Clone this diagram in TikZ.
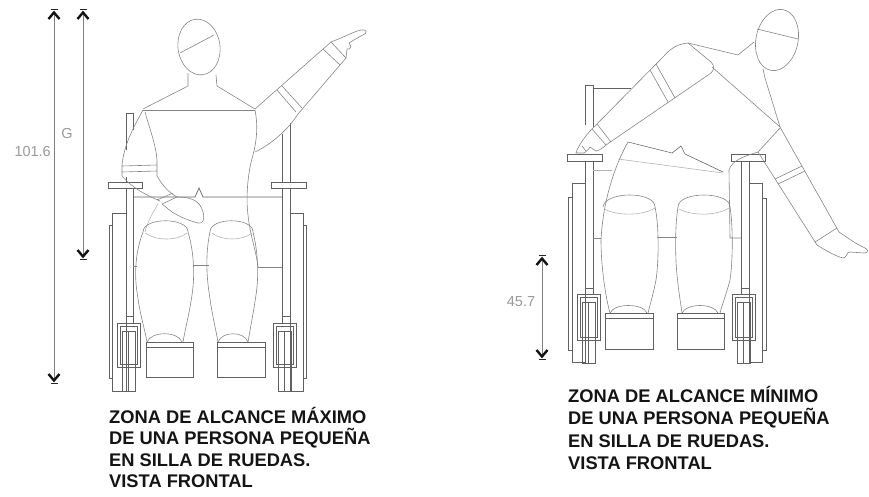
\documentclass[tikz,border=0pt]{standalone}
\usepackage{fontspec}
\setmainfont{Liberation Sans}
\begin{document}
\begin{tikzpicture}[x=1pt,y=-1pt,
  chair/.style={draw=black!62,line width=0.7pt},
  body/.style={draw=black!48,line width=0.6pt},
  faint/.style={draw=black!30,line width=0.6pt},
  dimline/.style={draw=black!50,line width=0.6pt},
  tipline/.style={draw=black!92,line width=2.4pt,line join=miter},
  tipbar/.style={draw=black!85,line width=1.1pt},
  caption/.style={anchor=base west,inner sep=0pt,font=\bfseries\fontsize{18.3}{22}\selectfont,text=black!92},
  dimlabel/.style={inner sep=0pt,font=\fontsize{14.5}{16}\selectfont,text=black!40},
  tipup/.pic={\draw[tipline] (-5.5,7) -- (0,0.5) -- (5.5,7); \draw[tipbar] (-3.5,-2.5) -- (3.5,-2.5);},
  tipdown/.pic={\draw[tipline] (-5.5,-7) -- (0,-0.5) -- (5.5,-7); \draw[tipbar] (-3.5,2.5) -- (3.5,2.5);}]
\useasboundingbox (0,0) rectangle (869,496);

% ================= left view: maximum reach =================
% dimension lines
\coordinate (Ht) at (54,12);  \coordinate (Hb) at (54,381);
\coordinate (Gt) at (83,12);  \coordinate (Gb) at (83,257);
\draw[dimline] (Ht) -- (Hb);
\draw[dimline] (Gt) -- (Gb);
\pic at (Ht) {tipup}; \pic at (Hb) {tipdown};
\pic at (Gt) {tipup}; \pic at (Gb) {tipdown};
\node[dimlabel,anchor=east] (hlabel) at (51,152) {101.6};
\node[dimlabel] (glabel) at (67,134) {G};

% wheelchair frame
\draw[chair] (126,113) -- (133,113);
\draw[chair] (126,113) -- (126,150);
\draw[chair] (133,113) -- (133,130);
\draw[chair] (126,177) -- (126,316);
\draw[chair] (133,186) -- (133,316);
\draw[chair] (282,134) -- (282,316);
\draw[chair] (290,123) -- (290,316);
\draw[chair] (133,197) -- (195,197) -- (199,188) -- (203,197) -- (282,197);
\draw[chair] (112,213) rectangle (126,391);
\draw[chair] (109,225) rectangle (112,378);
\draw[chair] (290,213) rectangle (303,391);
\draw[chair] (303,225) rectangle (306,378);
\draw[chair,fill=white] (108,182) rectangle (142,188);
\draw[chair,fill=white] (271,182) rectangle (306,188);
% front casters
\draw[chair] (126,316) rectangle (133,323);
\draw[chair] (117,323) rectangle (140,367);
\draw[chair] (120,326) rectangle (137,364);
\draw[chair] (122,331) rectangle (135,391);
\draw[chair] (128.5,331) -- (128.5,391);
\draw[chair] (282,316) rectangle (290,323);
\draw[chair] (273,323) rectangle (296,367);
\draw[chair] (276,326) rectangle (293,364);
\draw[chair] (278,331) rectangle (291,391);
\draw[chair] (284.5,331) -- (284.5,391);
% footrests
\draw[chair] (146,342) rectangle (193,377);
\draw[chair] (146,347) -- (193,347);
\draw[chair] (217,342) rectangle (265,377);
\draw[chair] (217,347) -- (265,347);

% seated figure
\draw[body,rotate around={8:(199,47)}] (199,47) ellipse [x radius=21,y radius=28];
\draw[body] (180,53) -- (214,35);
\draw[body] (188,73) -- (188,86) -- (143,109);
\draw[body] (216,75) -- (217,86) -- (255,109);
\draw[body] (143,110) -- (255,110);
% arm resting on the lap
\draw[body] (143,110) .. controls (133,128) and (124,145) .. (122,165) -- (122,176)
  .. controls (132,188) and (148,196) .. (160,201);
\draw[body] (145,112) .. controls (150,130) and (156,145) .. (157,160) -- (157,176)
  .. controls (163,186) and (168,192) .. (177,197);
\draw[body] (122,166) -- (157,165);
\draw[body] (122,172) -- (157,171);
\draw[body] (157,200) -- (173,193);
\draw[body] (162,204) -- (177,197);
\draw[body] (177,197) .. controls (190,197) and (200,200) .. (203,212)
  .. controls (205,220) and (203,224) .. (198,223)
  .. controls (190,221) and (180,217) .. (172,212) -- (162,204);
\draw[faint] (158,204) .. controls (152,214) and (147,223) .. (145,232);
% raised arm
\draw[body] (255,109) -- (331,42);
\draw[body] (255,152) .. controls (270,145) and (288,130) .. (298,114) -- (346,58);
\draw[body] (277,90) -- (296,112);
\draw[body] (282,86) -- (302,108);
\draw[body] (323,49) -- (340,65);
\draw[body] (331,42) -- (346,58);
\draw[body] (331,42) -- (341,38) .. controls (350,34) and (356,31) .. (361,30)
  .. controls (367,29) and (368,33) .. (363,35)
  .. controls (357,38) and (352,41) .. (349,43)
  .. controls (352,46) and (351,50) .. (347,49) -- (346,58);
% side of the torso
\draw[body] (255,110) .. controls (258,125) and (257,140) .. (253,155)
  .. controls (247,175) and (246,200) .. (248,215)
  .. controls (250,235) and (256,250) .. (258,267);
% legs
\draw[body] (143,232) .. controls (143,217) and (188,217) .. (188,232);
\draw[faint] (145,233) .. controls (156,241) and (177,241) .. (187,233);
\draw[body] (143,232) .. controls (136,250) and (134,272) .. (137,292)
  .. controls (140,315) and (145,330) .. (147,342);
\draw[body] (188,232) .. controls (194,252) and (195,275) .. (192,295)
  .. controls (189,315) and (185,330) .. (183,342);
\draw[body] (147,342) .. controls (151,331) and (178,331) .. (182,342);
\draw[body] (210,232) .. controls (210,217) and (253,217) .. (253,232);
\draw[faint] (212,233) .. controls (222,241) and (242,241) .. (252,233);
\draw[body] (210,232) .. controls (206,250) and (206,272) .. (209,292)
  .. controls (212,315) and (216,330) .. (218,342);
\draw[body] (253,232) .. controls (258,252) and (259,275) .. (256,295)
  .. controls (253,315) and (250,330) .. (248,342);
\draw[body] (218,342) .. controls (222,331) and (244,331) .. (248,342);
\draw[body] (193,265) -- (209,265);
\draw[body] (258,267) -- (282,267);
\draw[body] (133,266) -- (137,266);

\node[caption] (capA1) at (109,423) {ZONA DE ALCANCE MÁXIMO};
\node[caption] (capA2) at (109,444.5) {DE UNA PERSONA PEQUEÑA};
\node[caption] (capA3) at (109,466) {EN SILLA DE RUEDAS.};
\node[caption] (capA4) at (109,487.5) {VISTA FRONTAL};

% ================= right view: minimum reach =================
\coordinate (Kt) at (542,258); \coordinate (Kb) at (542,357);
\draw[dimline] (Kt) -- (Kb);
\pic at (Kt) {tipup}; \pic at (Kb) {tipdown};
\node[dimlabel] (klabel) at (521,302) {45.7};

% wheelchair frame
\draw[chair] (585,85) -- (593,85);
\draw[chair] (585,85) -- (585,125);
\draw[chair] (593,85) -- (593,127);
\draw[chair] (593,88) -- (631,88);
\draw[chair] (585,161) -- (585,288);
\draw[chair] (593,161) -- (593,288);
\draw[chair] (741,161) -- (741,288);
\draw[chair] (749,161) -- (749,288);
\draw[chair] (572,183) rectangle (585,362);
\draw[chair] (568,197) rectangle (572,350);
\draw[chair] (749,183) rectangle (762,362);
\draw[chair] (762,198) rectangle (766,350);
\draw[chair,fill=white] (567,154) rectangle (602,161);
\draw[chair,fill=white] (731,154) rectangle (765,161);
\draw[chair] (585,288) rectangle (593,294);
\draw[chair] (577,294) rectangle (600,340);
\draw[chair] (580,297) rectangle (597,337);
\draw[chair] (582,302) rectangle (595,363);
\draw[chair] (588.5,302) -- (588.5,363);
\draw[chair] (741,288) rectangle (749,294);
\draw[chair] (732,294) rectangle (755,340);
\draw[chair] (735,297) rectangle (752,337);
\draw[chair] (737,302) rectangle (750,363);
\draw[chair] (743.5,302) -- (743.5,363);
\draw[chair] (605,313) rectangle (653,349);
\draw[chair] (605,318) -- (653,318);
\draw[chair] (677,313) rectangle (724,349);
\draw[chair] (677,318) -- (724,318);

% leaning figure
\draw[body,rotate around={-12:(777,40)}] (777,40) ellipse [x radius=21,y radius=31];
\draw[body] (757,29) -- (798,39);
\draw[body] (754,42) -- (738,55) -- (688,43);
\draw[body] (763,69) -- (765,78) -- (780,127);
% arm reaching down to the left armrest
\draw[body] (688,43) .. controls (677,44) and (670,49) .. (664,56) -- (592,129);
\draw[body] (688,43) -- (711,62) .. controls (715,66) and (714,70) .. (711,73) -- (606,145);
\draw[body] (650,70) -- (668,102);
\draw[body] (656,64) -- (675,98);
\draw[body] (592,129) -- (606,145);
\draw[body] (597,124) -- (611,142);
\draw[body] (592,129) .. controls (585,136) and (580,144) .. (577,150) -- (576,153)
  -- (584,153) .. controls (587,151) and (589,149) .. (590,147)
  -- (596,151) .. controls (600,150) and (603,148) .. (606,145);
\draw[body] (582,146) -- (586,151);
% chest and the arm hanging on the right
\draw[body] (712,67) -- (780,127);
\draw[body] (780,127) -- (839,232);
\draw[body] (780,128) -- (758,152) -- (817,245);
\draw[body] (775,179) -- (802,166);
\draw[body] (778,184) -- (805,171);
\draw[body] (815,242) -- (837,228);
\draw[body] (839,232) .. controls (848,238) and (856,244) .. (863,247)
  .. controls (869,249) and (869,253) .. (864,253) -- (850,252)
  .. controls (846,252) and (847,258) .. (843,258)
  .. controls (835,256) and (825,250) .. (817,245);
% waist, hips and seat
\draw[body,draw=black!60] (628,142) -- (672,153) -- (681,146) -- (685,154) -- (723,172);
\draw[faint] (618,159) -- (723,173);
\draw[faint] (593,170) -- (612,170);
\draw[body] (628,142) .. controls (615,165) and (603,200) .. (601,240)
  .. controls (601,265) and (605,295) .. (610,313);
\draw[body] (758,152) .. controls (745,156) and (732,160) .. (729,170) -- (730,238) -- (741,238);
% legs
\draw[body] (603,207) .. controls (605,191) and (655,191) .. (655,207);
\draw[faint] (604,209) .. controls (618,216) and (642,216) .. (655,208);
\draw[body] (655,207) .. controls (659,225) and (659,260) .. (656,280)
  .. controls (653,295) and (650,305) .. (648,313);
\draw[body] (678,207) .. controls (678,191) and (730,191) .. (730,207);
\draw[faint] (679,209) .. controls (692,216) and (716,216) .. (729,208);
\draw[body] (678,207) .. controls (675,225) and (675,255) .. (677,275)
  .. controls (679,295) and (681,305) .. (682,313);
\draw[body] (730,207) .. controls (733,225) and (733,260) .. (730,280)
  .. controls (726,295) and (722,305) .. (720,313);
\draw[body] (610,313) .. controls (614,303) and (643,303) .. (647,313);
\draw[body] (682,313) .. controls (686,303) and (714,303) .. (718,313);
\draw[body] (657,237) -- (677,237);
\draw[body] (593,238) -- (601,238);

\node[caption] (capB1) at (568,402) {ZONA DE ALCANCE MÍNIMO};
\node[caption] (capB2) at (568,424.5) {DE UNA PERSONA PEQUEÑA};
\node[caption] (capB3) at (568,447) {EN SILLA DE RUEDAS.};
\node[caption] (capB4) at (568,469.5) {VISTA FRONTAL};
\end{tikzpicture}
\end{document}
